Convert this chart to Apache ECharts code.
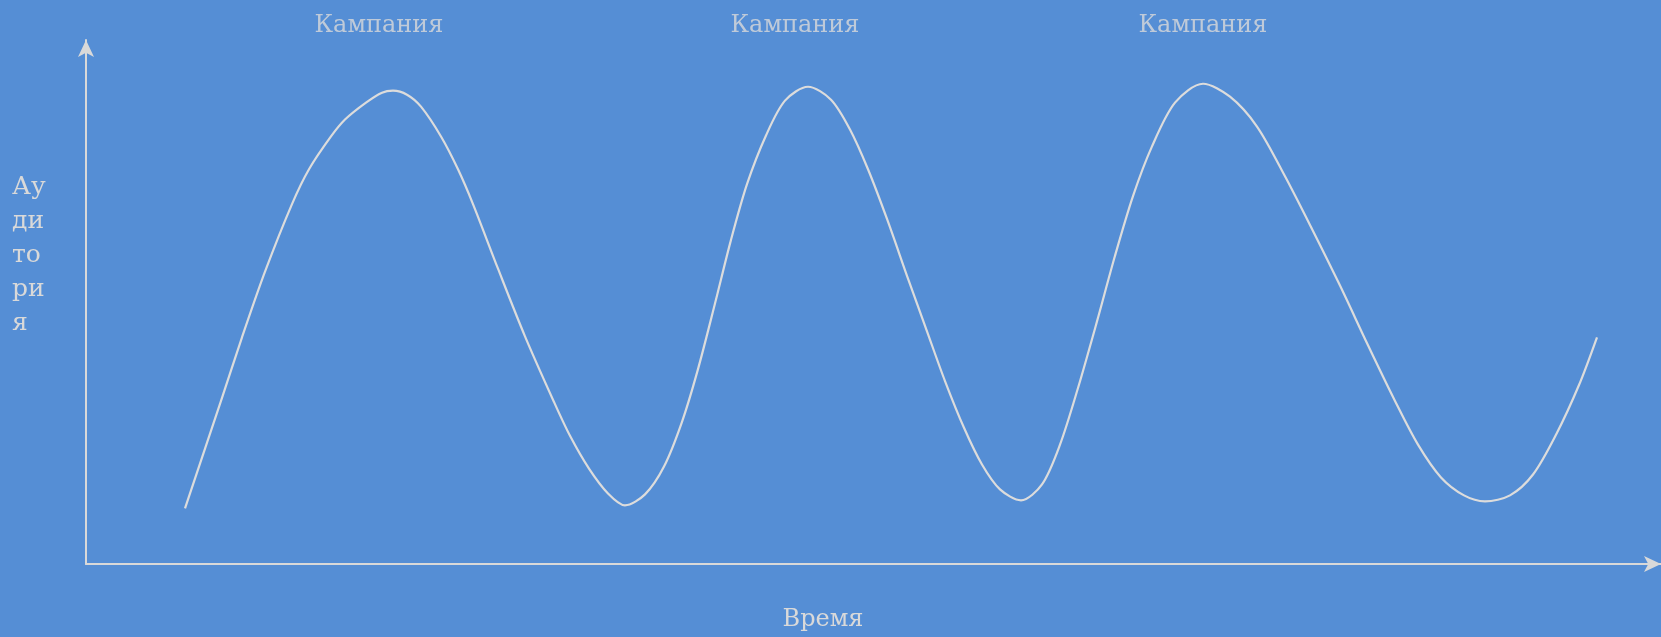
<!DOCTYPE html>
<html>
<head>
    <meta charset="utf-8">
    <script src="https://cdn.jsdelivr.net/npm/echarts@6/dist/echarts.min.js"></script>
    <style>
        html, body { margin: 0; padding: 0; background: #558ED5; }
        #main { width: 1661px; height: 637px; }
    </style>
</head>

<body>
    <div id="main"></div>

    <script type="text/javascript">
        // time (x) and audience (y)
        var timeValues = [99, 135, 156, 179, 206, 223, 245, 259, 280, 296, 307, 321, 335, 355,
            372, 387, 412, 439, 468, 484, 503, 522, 539,
            559, 578, 596, 612, 629, 645, 661, 680, 699, 722,
            745, 764, 782, 801, 822, 841, 859, 878, 896, 914, 935,
            956, 974, 992, 1011, 1029, 1047, 1066, 1089, 1117,
            1144, 1171, 1199, 1226, 1254, 1282, 1309, 1332, 1355, 1378, 1399,
            1424, 1447, 1470, 1493, 1511];
        var audienceValues = [56, 164, 228, 294, 362, 397, 430, 447, 464, 474, 476, 472, 460, 430,
            397, 362, 297, 229, 163, 129, 96, 71, 59,
            70, 98, 143, 196, 262, 326, 382, 431, 466, 480,
            467, 437, 397, 347, 287, 234, 184, 137, 100, 75, 64,
            80, 120, 177, 244, 310, 370, 420, 464, 483,
            470, 440, 390, 337, 280, 220, 164, 120, 87, 69, 63,
            69, 90, 130, 180, 228];

        // campaign captions above the peaks
        var campaignX = [293, 709, 1117];
        var campaignY = [541, 541, 541];
        var campaignText = 'Кампания';

        var xMax = 1575;
        var yMax = 527;

        var textColor = '#D9D9D9';
        var font = 'DejaVu Serif';

        var curve = timeValues.map(function (t, i) { return [t, audienceValues[i]]; });
        var captions = campaignX.map(function (x, i) { return [x, campaignY[i]]; });

        var myChart = echarts.init(document.getElementById('main'));
        myChart.setOption({
            backgroundColor: '#558ED5',
            animation: false,
            // y axis caption, written letter pair by letter pair
            title: {
                text: 'Ау\nди\nто\nри\nя',
                left: 12,
                top: 170,
                padding: 0,
                textStyle: {
                    color: textColor, fontFamily: font, fontSize: 25,
                    fontWeight: 'normal', lineHeight: 34
                }
            },
            grid: { left: 86, right: 0, top: 40, bottom: 70 },
            xAxis: {
                type: 'value',
                min: 0,
                max: xMax,
                name: 'Время',
                nameLocation: 'middle',
                nameGap: 56,
                nameTextStyle: {
                    color: textColor, fontFamily: font, fontSize: 24,
                    verticalAlign: 'middle', padding: [0, 101, 0, 0]
                },
                axisLine: {
                    lineStyle: { color: textColor, width: 2 },
                    symbol: ['none', 'arrow'],
                    symbolSize: [12, 17]
                },
                axisTick: { show: false },
                axisLabel: { show: false },
                splitLine: { show: false }
            },
            yAxis: {
                type: 'value',
                min: 0,
                max: yMax,
                axisLine: {
                    lineStyle: { color: textColor, width: 2 },
                    symbol: ['none', 'arrow'],
                    symbolSize: [12, 17]
                },
                axisTick: { show: false },
                axisLabel: { show: false },
                splitLine: { show: false }
            },
            series: [
                {
                    type: 'line',
                    data: curve,
                    smooth: 0.3,
                    showSymbol: false,
                    lineStyle: { color: '#DCDCDC', width: 2.2 }
                },
                {
                    type: 'scatter',
                    data: captions,
                    clip: false,
                    symbolSize: 1,
                    itemStyle: { color: 'rgba(0,0,0,0)' },
                    label: {
                        show: true,
                        position: 'inside',
                        formatter: campaignText,
                        color: textColor,
                        fontFamily: font,
                        fontSize: 24
                    }
                }
            ]
        });
    </script>
</body>

</html>
